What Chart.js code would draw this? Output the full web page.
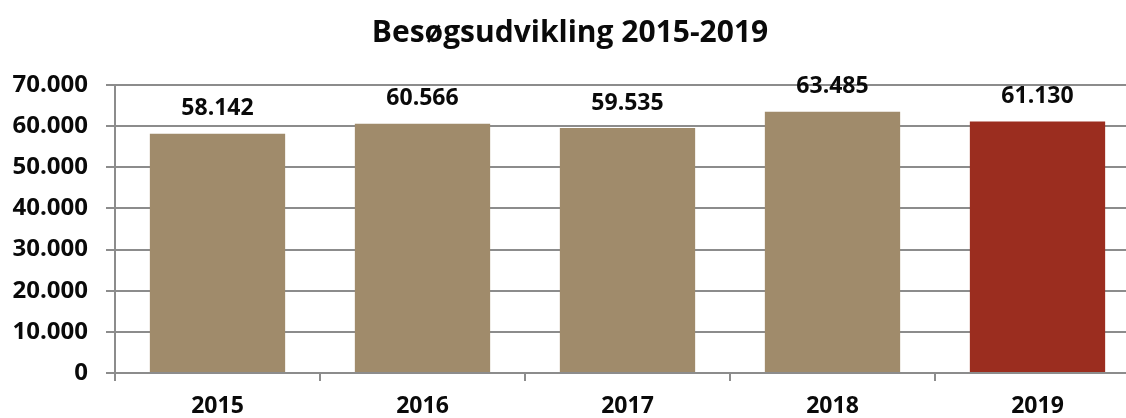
<!DOCTYPE html>
<html>
<head>
<meta charset="utf-8">
<script src="https://cdn.jsdelivr.net/npm/chart.js@4/dist/chart.umd.min.js"></script>
<style>
  html, body { margin: 0; padding: 0; background: #fff; overflow: hidden; }
  #wrap { width: 1140px; height: 418px; position: relative; }
</style>
</head>
<body>
<div id="wrap"><canvas id="chart"></canvas></div>
<script>
var years = ['2015', '2016', '2017', '2018', '2019'];
var visits = [58142, 60566, 59535, 63485, 61130];
var barColors = ['#A08B6B', '#A08B6B', '#A08B6B', '#A08B6B', '#9B2D1F'];
var yTicks = [0, 10000, 20000, 30000, 40000, 50000, 60000, 70000];

var FONT = "'Open Sans', sans-serif";
var GRID = '#8c8c8c';

function fmt(v) {
    // danish style thousands separator
    return String(v).replace(/\B(?=(\d{3})+(?!\d))/g, '.');
}

// draw the values above each bar
var valueLabels = {
    id: 'valueLabels',
    afterDatasetsDraw: function (chart) {
        var ctx = chart.ctx;
        var meta = chart.getDatasetMeta(0);
        ctx.save();
        ctx.font = 'bold 23px ' + FONT;
        ctx.fillStyle = '#0a0a0a';
        ctx.textAlign = 'center';
        ctx.textBaseline = 'middle';
        meta.data.forEach(function (bar, i) {
            ctx.fillText(fmt(visits[i]), bar.x, bar.y - 25);
        });
        ctx.restore();
    }
};

var ctx = document.getElementById('chart').getContext('2d');
var theChart = new Chart(ctx, {
    type: 'bar',
    data: {
        labels: years,
        datasets: [{
            data: visits,
            backgroundColor: barColors,
            borderWidth: 0,
            barPercentage: 0.66,
            categoryPercentage: 1
        }]
    },
    options: {
        responsive: true,
        maintainAspectRatio: false,
        animation: false,
        layout: { padding: 0 },
        plugins: {
            legend: { display: false },
            tooltip: { enabled: false },
            title: {
                display: true,
                text: 'Besøgsudvikling 2015-2019',
                color: '#0a0a0a',
                font: { family: FONT, size: 30, weight: 'bold' },
                padding: { top: 15, bottom: 34 }
            }
        },
        scales: {
            x: {
                grid: {
                    drawOnChartArea: false,
                    drawTicks: true,
                    tickLength: 8,
                    color: GRID,
                    lineWidth: 2,
                    offset: true
                },
                border: { color: GRID, width: 2 },
                ticks: {
                    color: '#0a0a0a',
                    padding: 12,
                    font: { family: FONT, size: 23, weight: 'bold' }
                },
                afterFit: function (s) { s.height = 45; }
            },
            y: {
                min: 0,
                max: 70000,
                afterBuildTicks: function (s) {
                    s.ticks = yTicks.map(function (v) { return { value: v }; });
                },
                grid: {
                    color: GRID,
                    lineWidth: 2,
                    tickLength: 9
                },
                border: { color: GRID, width: 2 },
                ticks: {
                    color: '#0a0a0a',
                    padding: 18,
                    font: { family: FONT, size: 24, weight: 'bold' },
                    callback: function (v) { return fmt(v); }
                },
                afterFit: function (s) { s.width = 115; }
            }
        }
    },
    plugins: [valueLabels]
});
</script>
</body>
</html>
